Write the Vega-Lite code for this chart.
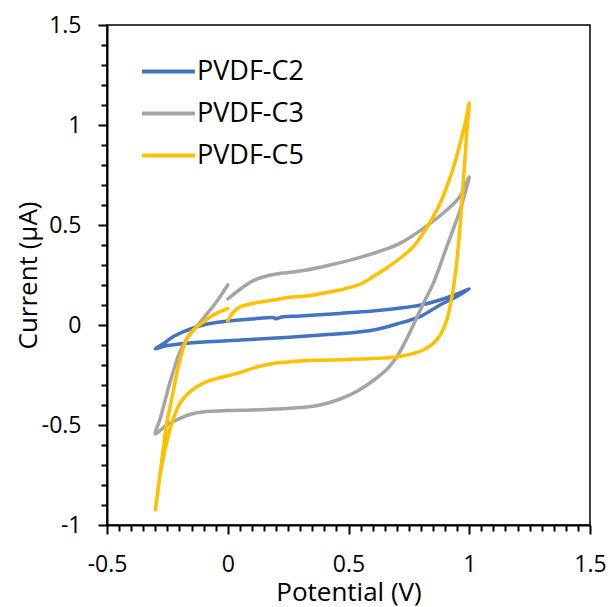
{
  "$schema": "https://vega.github.io/schema/vega-lite/v6.json",
  "width": 483,
  "height": 500,
  "autosize": "none",
  "padding": {"left": 107, "top": 25, "right": 19, "bottom": 82},
  "background": "white",
  "config": {
    "font": "Open Sans",
    "view": {"stroke": "black", "strokeWidth": 1.5},
    "axis": {"grid": false, "domainColor": "black", "domainWidth": 2, "tickColor": "black", "labelColor": "black", "titleColor": "black", "labelFont": "Open Sans", "titleFont": "Open Sans", "titleFontWeight": "normal"}
  },
  "data": {"values": [
    {"s":"PVDF-C2","i":1,"x":0,"y":0.02},{"s":"PVDF-C2","i":2,"x":0.1,"y":0.03},{"s":"PVDF-C2","i":3,"x":0.19,"y":0.037},{"s":"PVDF-C2","i":4,"x":0.2,"y":0.031},{"s":"PVDF-C2","i":5,"x":0.22,"y":0.039},{"s":"PVDF-C2","i":6,"x":0.3,"y":0.045},{"s":"PVDF-C2","i":7,"x":0.465,"y":0.058},{"s":"PVDF-C2","i":8,"x":0.6,"y":0.07},{"s":"PVDF-C2","i":9,"x":0.741,"y":0.089},{"s":"PVDF-C2","i":10,"x":0.8,"y":0.1},{"s":"PVDF-C2","i":11,"x":0.879,"y":0.125},{"s":"PVDF-C2","i":12,"x":0.95,"y":0.155},{"s":"PVDF-C2","i":13,"x":1.0,"y":0.18},
    {"s":"PVDF-C2","i":14,"x":0.948,"y":0.142},{"s":"PVDF-C2","i":15,"x":0.879,"y":0.1},{"s":"PVDF-C2","i":16,"x":0.796,"y":0.042},{"s":"PVDF-C2","i":17,"x":0.7,"y":0.005},{"s":"PVDF-C2","i":18,"x":0.603,"y":-0.025},{"s":"PVDF-C2","i":19,"x":0.5,"y":-0.04},{"s":"PVDF-C2","i":20,"x":0.327,"y":-0.055},{"s":"PVDF-C2","i":21,"x":0.2,"y":-0.065},{"s":"PVDF-C2","i":22,"x":0.051,"y":-0.075},{"s":"PVDF-C2","i":23,"x":-0.1,"y":-0.085},{"s":"PVDF-C2","i":24,"x":-0.2,"y":-0.095},{"s":"PVDF-C2","i":25,"x":-0.26,"y":-0.105},{"s":"PVDF-C2","i":26,"x":-0.3,"y":-0.12},
    {"s":"PVDF-C2","i":27,"x":-0.26,"y":-0.088},{"s":"PVDF-C2","i":28,"x":-0.225,"y":-0.058},{"s":"PVDF-C2","i":29,"x":-0.18,"y":-0.032},{"s":"PVDF-C2","i":30,"x":-0.143,"y":-0.015},{"s":"PVDF-C2","i":31,"x":-0.09,"y":0.004},{"s":"PVDF-C2","i":32,"x":-0.04,"y":0.014},{"s":"PVDF-C2","i":33,"x":0,"y":0.02},

    {"s":"PVDF-C3","i":1,"x":0,"y":0.13},{"s":"PVDF-C3","i":2,"x":0.064,"y":0.19},{"s":"PVDF-C3","i":3,"x":0.106,"y":0.222},{"s":"PVDF-C3","i":4,"x":0.147,"y":0.24},{"s":"PVDF-C3","i":5,"x":0.2,"y":0.255},{"s":"PVDF-C3","i":6,"x":0.285,"y":0.267},{"s":"PVDF-C3","i":7,"x":0.327,"y":0.275},{"s":"PVDF-C3","i":8,"x":0.423,"y":0.3},{"s":"PVDF-C3","i":9,"x":0.534,"y":0.333},{"s":"PVDF-C3","i":10,"x":0.62,"y":0.365},{"s":"PVDF-C3","i":11,"x":0.713,"y":0.408},{"s":"PVDF-C3","i":12,"x":0.81,"y":0.483},{"s":"PVDF-C3","i":13,"x":0.907,"y":0.575},{"s":"PVDF-C3","i":14,"x":0.96,"y":0.64},{"s":"PVDF-C3","i":15,"x":1.0,"y":0.74},
    {"s":"PVDF-C3","i":16,"x":0.985,"y":0.67},{"s":"PVDF-C3","i":17,"x":0.962,"y":0.575},{"s":"PVDF-C3","i":18,"x":0.907,"y":0.392},{"s":"PVDF-C3","i":19,"x":0.851,"y":0.208},{"s":"PVDF-C3","i":20,"x":0.81,"y":0.108},{"s":"PVDF-C3","i":21,"x":0.78,"y":0.03},{"s":"PVDF-C3","i":22,"x":0.755,"y":-0.035},{"s":"PVDF-C3","i":23,"x":0.73,"y":-0.095},{"s":"PVDF-C3","i":24,"x":0.7,"y":-0.16},{"s":"PVDF-C3","i":25,"x":0.66,"y":-0.22},{"s":"PVDF-C3","i":26,"x":0.6,"y":-0.28},{"s":"PVDF-C3","i":27,"x":0.53,"y":-0.335},{"s":"PVDF-C3","i":28,"x":0.465,"y":-0.37},{"s":"PVDF-C3","i":29,"x":0.4,"y":-0.395},{"s":"PVDF-C3","i":30,"x":0.327,"y":-0.41},{"s":"PVDF-C3","i":31,"x":0.2,"y":-0.42},{"s":"PVDF-C3","i":32,"x":0.1,"y":-0.425},{"s":"PVDF-C3","i":33,"x":0,"y":-0.428},{"s":"PVDF-C3","i":34,"x":-0.087,"y":-0.433},{"s":"PVDF-C3","i":35,"x":-0.15,"y":-0.445},{"s":"PVDF-C3","i":36,"x":-0.198,"y":-0.467},{"s":"PVDF-C3","i":37,"x":-0.253,"y":-0.5},{"s":"PVDF-C3","i":38,"x":-0.3,"y":-0.545},
    {"s":"PVDF-C3","i":39,"x":-0.28,"y":-0.47},{"s":"PVDF-C3","i":40,"x":-0.26,"y":-0.38},{"s":"PVDF-C3","i":41,"x":-0.24,"y":-0.29},{"s":"PVDF-C3","i":42,"x":-0.22,"y":-0.21},{"s":"PVDF-C3","i":43,"x":-0.2,"y":-0.14},{"s":"PVDF-C3","i":44,"x":-0.17,"y":-0.07},{"s":"PVDF-C3","i":45,"x":-0.13,"y":-0.01},{"s":"PVDF-C3","i":46,"x":-0.09,"y":0.05},{"s":"PVDF-C3","i":47,"x":-0.05,"y":0.11},{"s":"PVDF-C3","i":48,"x":0,"y":0.2},

    {"s":"PVDF-C5","i":1,"x":0,"y":0.02},{"s":"PVDF-C5","i":2,"x":0.02,"y":0.06},{"s":"PVDF-C5","i":3,"x":0.051,"y":0.09},{"s":"PVDF-C5","i":4,"x":0.12,"y":0.112},{"s":"PVDF-C5","i":5,"x":0.189,"y":0.125},{"s":"PVDF-C5","i":6,"x":0.25,"y":0.138},{"s":"PVDF-C5","i":7,"x":0.327,"y":0.145},{"s":"PVDF-C5","i":8,"x":0.4,"y":0.16},{"s":"PVDF-C5","i":9,"x":0.465,"y":0.175},{"s":"PVDF-C5","i":10,"x":0.55,"y":0.205},{"s":"PVDF-C5","i":11,"x":0.603,"y":0.242},{"s":"PVDF-C5","i":12,"x":0.658,"y":0.285},{"s":"PVDF-C5","i":13,"x":0.72,"y":0.34},{"s":"PVDF-C5","i":14,"x":0.769,"y":0.392},{"s":"PVDF-C5","i":15,"x":0.81,"y":0.46},{"s":"PVDF-C5","i":16,"x":0.851,"y":0.542},{"s":"PVDF-C5","i":17,"x":0.88,"y":0.61},{"s":"PVDF-C5","i":18,"x":0.907,"y":0.692},{"s":"PVDF-C5","i":19,"x":0.935,"y":0.79},{"s":"PVDF-C5","i":20,"x":0.962,"y":0.908},{"s":"PVDF-C5","i":21,"x":0.985,"y":1.02},{"s":"PVDF-C5","i":22,"x":1.0,"y":1.11},
    {"s":"PVDF-C5","i":23,"x":0.99,"y":0.97},{"s":"PVDF-C5","i":24,"x":0.982,"y":0.825},{"s":"PVDF-C5","i":25,"x":0.972,"y":0.66},{"s":"PVDF-C5","i":26,"x":0.962,"y":0.492},{"s":"PVDF-C5","i":27,"x":0.952,"y":0.36},{"s":"PVDF-C5","i":28,"x":0.941,"y":0.242},{"s":"PVDF-C5","i":29,"x":0.925,"y":0.12},{"s":"PVDF-C5","i":30,"x":0.907,"y":0.025},{"s":"PVDF-C5","i":31,"x":0.88,"y":-0.05},{"s":"PVDF-C5","i":32,"x":0.851,"y":-0.092},{"s":"PVDF-C5","i":33,"x":0.81,"y":-0.125},{"s":"PVDF-C5","i":34,"x":0.769,"y":-0.142},{"s":"PVDF-C5","i":35,"x":0.7,"y":-0.16},{"s":"PVDF-C5","i":36,"x":0.603,"y":-0.167},{"s":"PVDF-C5","i":37,"x":0.5,"y":-0.172},{"s":"PVDF-C5","i":38,"x":0.4,"y":-0.176},{"s":"PVDF-C5","i":39,"x":0.327,"y":-0.178},{"s":"PVDF-C5","i":40,"x":0.25,"y":-0.185},{"s":"PVDF-C5","i":41,"x":0.189,"y":-0.192},{"s":"PVDF-C5","i":42,"x":0.12,"y":-0.21},{"s":"PVDF-C5","i":43,"x":0.051,"y":-0.238},{"s":"PVDF-C5","i":44,"x":-0.02,"y":-0.26},{"s":"PVDF-C5","i":45,"x":-0.087,"y":-0.283},{"s":"PVDF-C5","i":46,"x":-0.156,"y":-0.333},{"s":"PVDF-C5","i":47,"x":-0.198,"y":-0.392},{"s":"PVDF-C5","i":48,"x":-0.232,"y":-0.492},{"s":"PVDF-C5","i":49,"x":-0.26,"y":-0.625},{"s":"PVDF-C5","i":50,"x":-0.28,"y":-0.75},{"s":"PVDF-C5","i":51,"x":-0.3,"y":-0.925},
    {"s":"PVDF-C5","i":52,"x":-0.29,"y":-0.84},{"s":"PVDF-C5","i":53,"x":-0.28,"y":-0.742},{"s":"PVDF-C5","i":54,"x":-0.267,"y":-0.62},{"s":"PVDF-C5","i":55,"x":-0.253,"y":-0.492},{"s":"PVDF-C5","i":56,"x":-0.232,"y":-0.37},{"s":"PVDF-C5","i":57,"x":-0.211,"y":-0.242},{"s":"PVDF-C5","i":58,"x":-0.19,"y":-0.14},{"s":"PVDF-C5","i":59,"x":-0.17,"y":-0.07},{"s":"PVDF-C5","i":60,"x":-0.143,"y":-0.025},{"s":"PVDF-C5","i":61,"x":-0.108,"y":0.008},{"s":"PVDF-C5","i":62,"x":-0.06,"y":0.05},{"s":"PVDF-C5","i":63,"x":0,"y":0.083}
  ]},
  "mark": {"type": "line", "strokeWidth": 3.5, "interpolate": "catmull-rom", "strokeCap": "round", "strokeJoin": "round"},
  "encoding": {
    "x": {
      "field": "x", "type": "quantitative",
      "scale": {"domain": [-0.5, 1.5], "nice": false, "zero": false},
      "axis": {
        "title": "Potential (V)", "titleFontSize": 26, "titleX": 241.5, "titleY": 75, "titleBaseline": "alphabetic",
        "values": [-0.5,-0.45,-0.4,-0.35,-0.3,-0.25,-0.2,-0.15,-0.1,-0.05,0,0.05,0.1,0.15,0.2,0.25,0.3,0.35,0.4,0.45,0.5,0.55,0.6,0.65,0.7,0.75,0.8,0.85,0.9,0.95,1,1.05,1.1,1.15,1.2,1.25,1.3,1.35,1.4,1.45,1.5],
        "labelExpr": "abs(round(datum.value*2)-datum.value*2)<1e-6 ? ('' + datum.value) : ''",
        "labelFontSize": 23, "labelPadding": 19, "labelOverlap": false, "labelBound": false, "labelFlush": false,
        "tickSize": {"condition": {"test": "abs(round(datum.value*2)-datum.value*2)<1e-6", "value": 9}, "value": 6},
        "tickWidth": 2
      }
    },
    "y": {
      "field": "y", "type": "quantitative",
      "scale": {"domain": [-1, 1.5], "nice": false, "zero": false},
      "axis": {
        "title": "Current (µA)", "titleFontSize": 26, "titleX": -71, "titleY": 250, "titleBaseline": "alphabetic", "titleAngle": -90, "titleAlign": "center",
        "values": [-1,-0.9,-0.8,-0.7,-0.6,-0.5,-0.4,-0.3,-0.2,-0.1,0,0.1,0.2,0.3,0.4,0.5,0.6,0.7,0.8,0.9,1,1.1,1.2,1.3,1.4,1.5],
        "labelExpr": "abs(round(datum.value*2)-datum.value*2)<1e-6 ? ('' + datum.value) : ''",
        "labelFontSize": 23, "labelPadding": 17, "labelOverlap": false, "labelBound": false, "labelFlush": false,
        "tickSize": {"condition": {"test": "abs(round(datum.value*2)-datum.value*2)<1e-6", "value": 9}, "value": 6},
        "tickWidth": 2
      }
    },
    "color": {
      "field": "s", "type": "nominal",
      "scale": {"domain": ["PVDF-C2", "PVDF-C3", "PVDF-C5"], "range": ["#4472C4", "#A5A5A5", "#FFC000"]},
      "legend": {
        "title": null, "orient": "none", "legendX": 33, "legendY": 18, "padding": 0,
        "symbolType": "stroke", "symbolSize": 2809, "symbolStrokeWidth": 4,
        "labelFontSize": 27, "labelFont": "Open Sans", "labelColor": "black", "labelOffset": 0, "rowPadding": -1, "labelLimit": 300
      }
    },
    "order": {"field": "i", "type": "quantitative"}
  }
}
